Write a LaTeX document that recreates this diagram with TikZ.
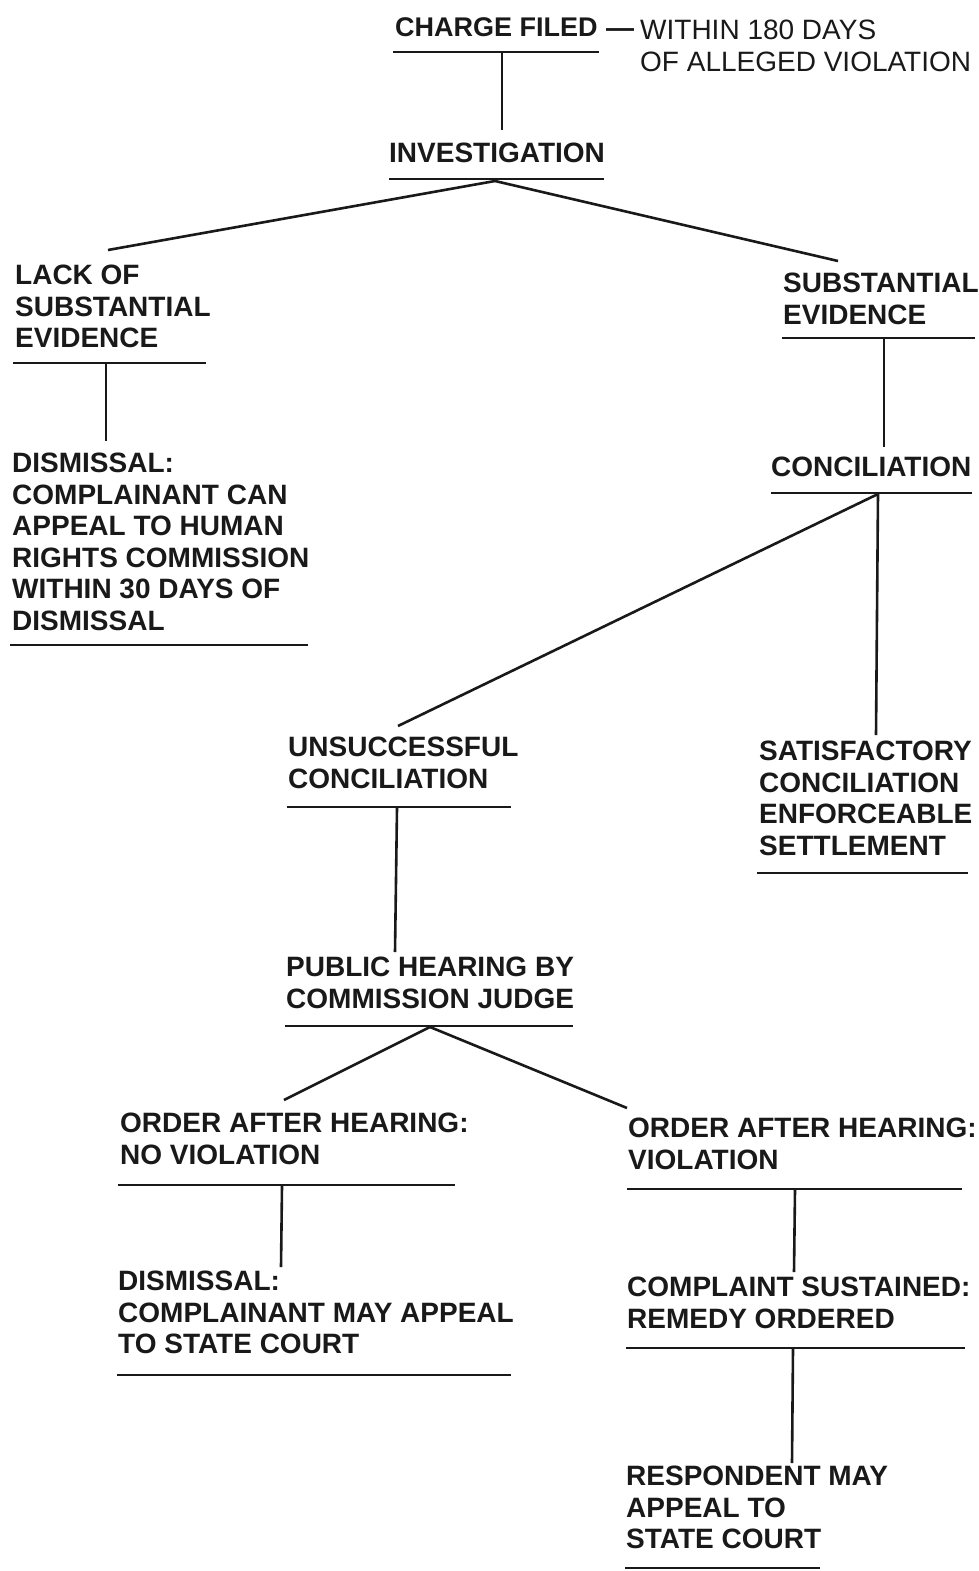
\documentclass[tikz,border=0pt]{standalone}
\usepackage{fontspec}
\setmainfont{Liberation Sans}
\begin{document}
\begin{tikzpicture}[x=1pt,y=-1pt,
  lbl/.style={anchor=north west,inner sep=0pt,align=left,text=black!90,
    font=\fontsize{28}{31.5}\selectfont\bfseries},
  note/.style={anchor=north west,inner sep=0pt,align=left,text=black!90,
    font=\fontsize{28}{31.5}\selectfont},
  rule/.style={line width=2.6pt,draw=black!90},
  conn/.style={line width=2.6pt,draw=black!90}]
\useasboundingbox (0,0) rectangle (978,1571);

% text nodes
\node[lbl,font=\fontsize{27}{31.5}\selectfont\bfseries] (charge) at (395,17) {CHARGE FILED};
\node[anchor=base west,inner sep=0pt,text=black!90,font=\fontsize{28}{31.5}\selectfont\bfseries] (dash) at (606,38) {\textemdash};
\node[note] (within) at (640,20) {WITHIN 180 DAYS\\OF ALLEGED VIOLATION};
\node[lbl] (inv) at (389,143) {INVESTIGATION};
\node[lbl] (lack) at (15,265) {LACK OF\\SUBSTANTIAL\\EVIDENCE};
\node[lbl] (dis1) at (12,453) {DISMISSAL:\\COMPLAINANT CAN\\APPEAL TO HUMAN\\RIGHTS COMMISSION\\WITHIN 30 DAYS OF\\DISMISSAL};
\node[lbl] (subst) at (783,273) {SUBSTANTIAL\\EVIDENCE};
\node[lbl] (conc) at (771,457) {CONCILIATION};
\node[lbl] (unsucc) at (288,737) {UNSUCCESSFUL\\CONCILIATION};
\node[lbl] (satis) at (759,741) {SATISFACTORY\\CONCILIATION\\ENFORCEABLE\\SETTLEMENT};
\node[lbl] (public) at (286,957) {PUBLIC HEARING BY\\COMMISSION JUDGE};
\node[lbl] (ordno) at (120,1113) {ORDER AFTER HEARING:\\NO VIOLATION};
\node[lbl] (dis2) at (118,1271) {DISMISSAL:\\COMPLAINANT MAY APPEAL\\TO STATE COURT};
\node[lbl] (ordv) at (628,1118) {ORDER AFTER HEARING:\\VIOLATION};
\node[lbl] (compl) at (627,1277) {COMPLAINT SUSTAINED:\\REMEDY ORDERED};
\node[lbl] (resp) at (626,1466) {RESPONDENT MAY\\APPEAL TO\\STATE COURT};

% underlines
\draw[rule] (393,52) -- (599,52);
\draw[rule] (389,179) -- (604,179);
\draw[rule] (13,363) -- (206,363);
\draw[rule] (10,645) -- (308,645);
\draw[rule] (782,338) -- (975,338);
\draw[rule] (771,493) -- (972,493);
\draw[rule] (287,807) -- (511,807);
\draw[rule] (757,873) -- (968,873);
\draw[rule] (285,1026) -- (573,1026);
\draw[rule] (118,1185) -- (455,1185);
\draw[rule] (117,1375) -- (511,1375);
\draw[rule] (627,1189) -- (962,1189);
\draw[rule] (626,1348) -- (965,1348);
\draw[rule] (625,1568) -- (820,1568);

% connector end points
\coordinate (charge-o) at (502,53);
\coordinate (inv-i) at (502,130);
\coordinate (inv-o) at (495,181);
\coordinate (lack-i) at (108,250);
\coordinate (subst-i) at (838,261);
\coordinate (lack-o) at (106,364);
\coordinate (dis1-i) at (106,441);
\coordinate (subst-o) at (884,339);
\coordinate (conc-i) at (884,447);
\coordinate (conc-o) at (878,494);
\coordinate (unsucc-i) at (398,726);
\coordinate (satis-i) at (876,735);
\coordinate (unsucc-o) at (397,808);
\coordinate (public-i) at (395,952);
\coordinate (public-o) at (430,1027);
\coordinate (ordno-i) at (284,1100);
\coordinate (ordv-i) at (627,1108);
\coordinate (ordno-o) at (282,1186);
\coordinate (dis2-i) at (281,1267);
\coordinate (ordv-o) at (795,1190);
\coordinate (compl-i) at (794,1272);
\coordinate (compl-o) at (793,1349);
\coordinate (resp-i) at (792,1463);

% connectors
\draw[conn] (charge-o) -- (inv-i);
\draw[conn] (inv-o) -- (lack-i);
\draw[conn] (inv-o) -- (subst-i);
\draw[conn] (lack-o) -- (dis1-i);
\draw[conn] (subst-o) -- (conc-i);
\draw[conn] (conc-o) -- (unsucc-i);
\draw[conn] (conc-o) -- (satis-i);
\draw[conn] (unsucc-o) -- (public-i);
\draw[conn] (public-o) -- (ordno-i);
\draw[conn] (public-o) -- (ordv-i);
\draw[conn] (ordno-o) -- (dis2-i);
\draw[conn] (ordv-o) -- (compl-i);
\draw[conn] (compl-o) -- (resp-i);
\end{tikzpicture}
\end{document}
